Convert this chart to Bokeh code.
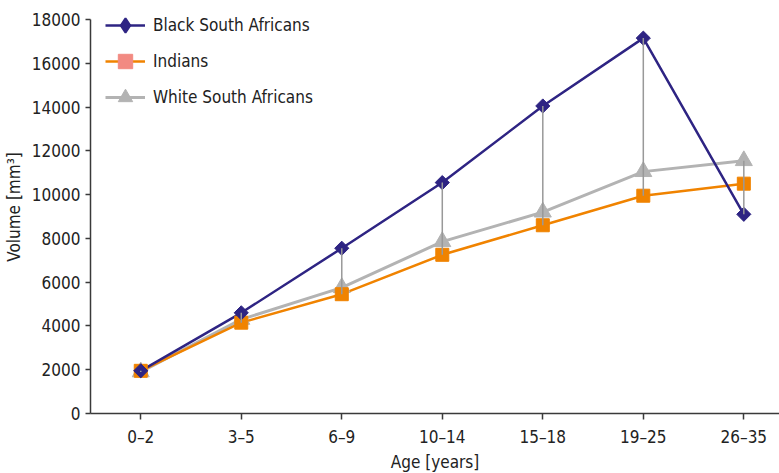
import math

from bokeh.plotting import figure
from bokeh.models import ColumnDataSource, Range1d, FixedTicker, Legend, LegendItem
from bokeh.embed import file_html
from bokeh.resources import INLINE

# Age groups and mean volumes (mm^3)
age_groups = ["0–2", "3–5", "6–9", "10–14", "15–18", "19–25", "26–35"]
black_sa = [1950, 4600, 7550, 10550, 14050, 17150, 9100]
indians = [1950, 4150, 5450, 7250, 8600, 9950, 10500]
white_sa = [1900, 4300, 5750, 7850, 9200, 11050, 11550]
y_ticks = [0, 2000, 4000, 6000, 8000, 10000, 12000, 14000, 16000, 18000]

FONT = "DejaVu Sans Condensed"
FS = "17px"
AXIS_COLOR = "#3a3a3a"
TEXT_COLOR = "#222222"

xs = list(range(len(age_groups)))
y_top = y_ticks[-1]

# The frame runs to the top edge so the legend has room; the axis line stops at 18000
p = figure(width=779, height=473, output_backend="svg", toolbar_location=None,
           x_range=Range1d(-0.5, 6.355), y_range=Range1d(0, y_top * 413 / 394),
           min_border_left=90, min_border_right=0, min_border_top=0,
           min_border_bottom=60)
p.frame_width = 689
p.frame_height = 413
p.outline_line_color = None
p.grid.visible = False
p.background_fill_color = "white"
p.border_fill_color = "white"

# Axes
p.xaxis.ticker = FixedTicker(ticks=xs)
p.xaxis.major_label_overrides = {i: lab for i, lab in enumerate(age_groups)}
p.yaxis.ticker = FixedTicker(ticks=y_ticks)
p.yaxis.bounds = (0, y_top)
p.yaxis.formatter.use_scientific = False
for ax in (p.xaxis, p.yaxis):
    ax.axis_line_color = AXIS_COLOR
    ax.axis_line_width = 1.5
    ax.major_tick_line_color = AXIS_COLOR
    ax.major_tick_line_width = 1.5
    ax.minor_tick_line_color = None
    ax.major_tick_in = 0
    ax.major_label_text_font = FONT
    ax.major_label_text_font_size = FS
    ax.major_label_text_color = TEXT_COLOR
    ax.axis_label_text_font = FONT
    ax.axis_label_text_font_size = FS
    ax.axis_label_text_font_style = "normal"
    ax.axis_label_text_color = TEXT_COLOR
p.xaxis.major_tick_out = 6
p.yaxis.major_tick_out = 5
p.xaxis.major_label_standoff = 7
p.yaxis.major_label_standoff = 5
p.xaxis.axis_label = "Age [years]"
p.yaxis.axis_label = "Volume [mm³]"
p.xaxis.axis_label_standoff = 2
p.yaxis.axis_label_standoff = 5

src = ColumnDataSource(dict(x=xs, black=black_sa, ind=indians, white=white_sa,
                            hi=[max(a, b, c) for a, b, c in zip(black_sa, indians, white_sa)],
                            lo=[min(a, b, c) for a, b, c in zip(black_sa, indians, white_sa)]))

# Series
BLUE = "#2e2483"
ORANGE = "#f08300"
GREY = "#b3b3b3"

w_line = p.line("x", "white", source=src, line_color=GREY, line_width=3)
i_line = p.line("x", "ind", source=src, line_color=ORANGE, line_width=2.5)
b_line = p.line("x", "black", source=src, line_color=BLUE, line_width=2.5)

w_mark = p.scatter("x", "white", source=src, marker="triangle", size=17,
                   fill_color=GREY, line_color=GREY)
i_mark = p.scatter("x", "ind", source=src, marker="square", size=13,
                   fill_color=ORANGE, line_color=ORANGE)
b_mark = p.scatter("x", "black", source=src, marker="square", size=10,
                   angle=math.pi / 4, fill_color=BLUE, line_color=BLUE)

# High-low lines across the three series
p.segment(x0="x", y0="hi", x1="x", y1="lo", source=src,
          line_color="#999999", line_width=1.5)

# Legend swatches (NaN points: drawn only in the legend)
nan = float("nan")
b_leg = p.scatter(x=[nan], y=[nan], marker="diamond", fill_color=BLUE, line_color=BLUE,
                  line_width=2)
i_leg = p.scatter(x=[nan], y=[nan], marker="square", fill_color="#f28a82",
                  line_color="#f28a82")
w_leg = p.scatter(x=[nan], y=[nan], marker="triangle", fill_color=GREY, line_color=GREY)

legend = Legend(items=[
    LegendItem(label="Black South Africans", renderers=[b_line, b_leg]),
    LegendItem(label="Indians", renderers=[i_line, i_leg]),
    LegendItem(label="White South Africans", renderers=[w_line, w_leg]),
], location=(15, 298))
legend.background_fill_alpha = 0
legend.border_line_color = None
legend.padding = 0
legend.margin = 0
legend.spacing = 0
legend.glyph_width = 40
legend.glyph_height = 36
legend.label_height = 36
legend.label_standoff = 8
legend.label_text_font = FONT
legend.label_text_font_size = FS
legend.label_text_color = TEXT_COLOR
p.add_layout(legend)

open("out.html", "w").write(file_html(p, INLINE))
